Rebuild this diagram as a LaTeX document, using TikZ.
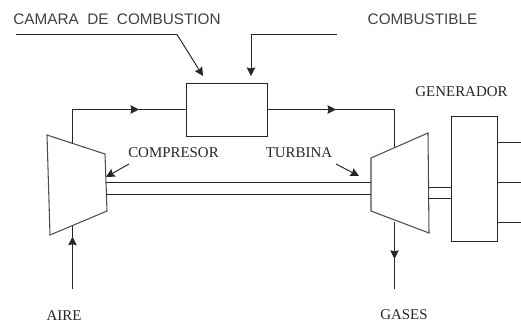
\documentclass[tikz,border=0pt]{standalone}
\usepackage{fontspec}
\setmainfont{Liberation Serif}
\newfontfamily\labelsans{Liberation Sans}
\usetikzlibrary{arrows.meta,positioning,decorations.markings}

\begin{document}
\begin{tikzpicture}[
		x=0.02cm,y=-0.02cm,
		>={Stealth[length=1.7mm,width=1.7mm,inset=0.2mm]},
		pipe/.style   ={draw,line width=0.55pt,black!85},
		link/.style   ={pipe,->},
		flowmark/.style={pipe,postaction=decorate,decoration={markings,
			mark=at position #1 with {\arrow{Stealth[length=1.7mm,width=1.7mm,inset=0.2mm]}}}},
		machine/.style={draw,line width=0.6pt,black!70},
		shaft/.style  ={draw,line width=0.6pt,black!85},
		unit/.style   ={rectangle,draw,line width=0.55pt,black!85,inner sep=0pt,fill=white},
		serif/.style  ={inner sep=0pt,text=black!85,font=\fontsize{8.5}{10}\selectfont},
		sans/.style   ={inner sep=0pt,text=black!75,font=\labelsans\fontsize{8.7}{10}\selectfont}
		]
		\useasboundingbox (0,0) rectangle (521,322);

		% ---- combustion chamber and generator ----
		\node[unit,minimum width=1.62cm,minimum height=1.06cm] (chamber) at (227,110) {};
		\node[unit,minimum width=0.92cm,minimum height=2.5cm] (generator) at (474.5,179) {};

		% ---- compressor corners ----
		\coordinate (compA) at (47,135);
		\coordinate (compB) at (105,154);
		\coordinate (compC) at (107,211);
		\coordinate (compD) at (50,235);
		\draw[machine] (compA) -- (compB) -- (compC) -- (compD) -- cycle;

		% ---- turbine corners ----
		\coordinate (turbA) at (371,158);
		\coordinate (turbB) at (428,133);
		\coordinate (turbC) at (429,233);
		\coordinate (turbD) at (371,211);
		\draw[machine] (turbA) -- (turbB) -- (turbC) -- (turbD) -- cycle;

		% ---- labels ----
		\node[sans] (camara) at (117,19) {CAMARA\ \ DE\ \ COMBUSTION};
		\node[sans] (combustible) at (422.5,19) {COMBUSTIBLE};
		\node[serif] (generador) at (461.5,92) {GENERADOR};
		\node[serif] (compresor) at (173.5,153) {COMPRESOR};
		\node[serif] (turbina) at (299,153) {TURBINA};
		\node[serif] (aire) at (64,316) {AIRE};
		\node[serif] (gases) at (404,315) {GASES};

		% ---- free ends of the connectors ----
		\coordinate (camaraStart) at (16,34.5);
		\coordinate (camaraBend) at (177,34.5);
		\coordinate (camaraEnd) at (203,76);
		\coordinate (fuelStart) at (337,34.5);
		\coordinate (fuelBend) at (251,34.5);
		\coordinate (fuelEnd) at (251,76);
		\coordinate (compOut) at (72.5,143);
		\coordinate (compOutBend) at (72.5,109.5);
		\coordinate (turbIn) at (394.5,147);
		\coordinate (turbInBend) at (394.5,109.5);
		\coordinate (airStart) at (72.5,289);
		\coordinate (airEnd) at (72.5,226);
		\coordinate (gasStart) at (394.5,222);
		\coordinate (gasEnd) at (394.5,289);
		\coordinate (compTip) at (106,177);
		\coordinate (compTail) at (129,164);
		\coordinate (turbTip) at (359,176);
		\coordinate (turbTail) at (336,164);

		% ---- pointers to the units ----
		\draw[link] (camaraStart) -- (camaraBend) -- (camaraEnd);
		\draw[link] (fuelStart) -- (fuelBend) -- (fuelEnd);
		\draw[link] (compTail) -- (compTip);
		\draw[link] (turbTail) -- (turbTip);

		% ---- main flow: air -> compressor -> chamber -> turbine -> gases ----
		\draw[flowmark=0.68] (compOut) -- (compOutBend) -- (chamber.west |- compOutBend);
		\draw[flowmark=0.415] (chamber.east |- turbInBend) -- (turbInBend) -- (turbIn);
		\draw[flowmark=0.83] (airStart) -- (airEnd);
		\draw[flowmark=0.55] (gasStart) -- (gasEnd);

		% ---- shafts ----
		\draw[shaft] (106,182.5) coordinate (shaftA) -- (371,182.5) coordinate (shaftB);
		\draw[shaft] (106,194.5) coordinate (shaftC) -- (371,194.5) coordinate (shaftD);
		\draw[shaft] (428,187.5) coordinate (genA) -- (generator.west |- genA);
		\draw[shaft] (428,198.5) coordinate (genB) -- (generator.west |- genB);

		% ---- generator outputs ----
		\foreach \y in {142.5,182.5,222.5}{
			\coordinate (outEnd) at (521,\y);
			\draw[shaft] (generator.east |- outEnd) -- (outEnd);
		}

	\end{tikzpicture}
\end{document}
